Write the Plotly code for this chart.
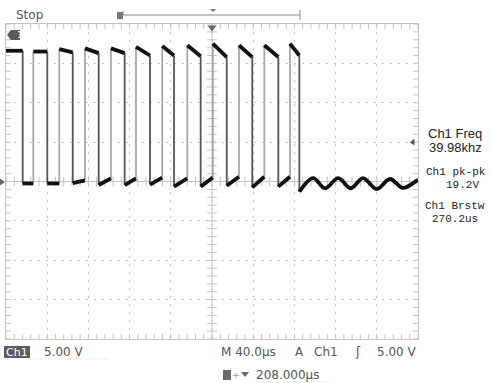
import numpy as np
import plotly.graph_objects as go

# ---------------- data (read from the screen) ----------------
# time in microseconds from the left edge of the graticule (40 us/div, 10 div)
# voltage in volts (5 V/div, ground at centre)
fall_us = [16.2, 40.1, 64.8, 90.0, 115.2, 139.8, 163.1, 189.0, 214.3, 239.1, 264.4, 284.8]
rise_us = [26.5, 51.7, 76.7, 101.9, 126.2, 151.7, 176.0, 200.8, 226.2, 250.8, 275.7]
high_start_v = [16.6, 16.5, 16.8, 16.9, 16.9, 17.1, 17.2, 17.3, 17.5, 17.3, 17.3, 17.5]
high_end_v = [16.6, 16.5, 16.4, 16.3, 16.3, 16.0, 16.0, 15.9, 15.8, 15.8, 15.8, 16.0]
low_start_v = [-0.25, -0.25, -0.2, -0.45, -0.45, -0.4, -0.65, -0.65, -0.55, -0.75, -0.65]
low_end_v = [-0.25, -0.25, 0.15, 0.4, 0.4, 0.5, 0.4, 0.5, 0.6, 0.6, 0.6]
ring_us = [284.8, 298.1, 309.7, 322.6, 334.7, 346.6, 359.9, 372.8, 385.4, 399.0, 400.0]
ring_v = [-1.3, 0.44, -0.86, 0.44, -0.86, 0.44, -0.95, 0.32, -0.82, 0.13, 0.2]

meas_labels = ["Ch1 Freq", "39.98khz", "Ch1 pk-pk", "19.2V", "Ch1 Brstw", "270.2us"]
status_text = "Stop"
ch_scale = "5.00 V"
time_scale = "M 40.0µs"
trig_text = ["A", "Ch1", "ʃ", "5.00 V"]
trig_pos = "208.000µs"
trig_level_v = 5.0
trig_time_us = 200.0

T_MIN, T_MAX, V_MIN, V_MAX = 0, 400, -20, 20
T_DIV, V_DIV = 40, 5

# ---------------- build the trace ----------------
pulse_start = [T_MIN] + rise_us
hx, hy = [], []
for i, f in enumerate(fall_us):
    hx += [pulse_start[i], f, None]
    hy += [high_start_v[i], high_end_v[i], None]
for i, r in enumerate(rise_us):
    hx += [fall_us[i], r, None]
    hy += [low_start_v[i], low_end_v[i], None]

fx, fy = [], []
for i, f in enumerate(fall_us):
    end_low = low_start_v[i] if i < len(low_start_v) else ring_v[0]
    fx += [f, f, None]
    fy += [high_end_v[i], end_low, None]
rx, ry = [], []
for i, r in enumerate(rise_us):
    rx += [r, r, None]
    ry += [low_end_v[i], high_start_v[i + 1], None]

fig = go.Figure()
GRID = "#c4c4c4"

# graticule ticks (clipped half-markers on the border, full on crosshair)
minor_t = np.arange(T_MIN, T_MAX + 0.01, T_DIV / 5)
minor_v = np.arange(V_MIN, V_MAX + 0.01, V_DIV / 5)
tick_style = dict(color=GRID, width=1)
for yv in (V_MIN, V_MAX, 0):
    fig.add_trace(go.Scatter(x=minor_t, y=[yv] * len(minor_t), mode="markers",
                             marker=dict(symbol="line-ns", size=7, line=tick_style),
                             hoverinfo="skip", showlegend=False, cliponaxis=True))
for xv in (T_MIN, T_MAX, (T_MIN + T_MAX) / 2):
    fig.add_trace(go.Scatter(x=[xv] * len(minor_v), y=minor_v, mode="markers",
                             marker=dict(symbol="line-ew", size=7, line=tick_style),
                             hoverinfo="skip", showlegend=False, cliponaxis=True))

# edges
fig.add_trace(go.Scatter(x=rx, y=ry, mode="lines", line=dict(color="#a8a8a8", width=1.8),
                         hoverinfo="skip", showlegend=False))
fig.add_trace(go.Scatter(x=fx, y=fy, mode="lines", line=dict(color="#555555", width=1.8),
                         hoverinfo="skip", showlegend=False))
# flat parts
fig.add_trace(go.Scatter(x=hx, y=hy, mode="lines", line=dict(color="#111111", width=3.8),
                         hoverinfo="skip", showlegend=False))
fig.add_trace(go.Scatter(x=ring_us, y=ring_v, mode="lines",
                         line=dict(color="#111111", width=3.8, shape="spline", smoothing=1.0),
                         hoverinfo="skip", showlegend=False))

# markers on graticule: trigger time (top) and trigger level (right)
fig.add_trace(go.Scatter(x=[trig_time_us], y=[V_MAX - 0.45], mode="markers",
                         marker=dict(symbol="triangle-down", size=8, color="#6a6a6a"),
                         hoverinfo="skip", showlegend=False, cliponaxis=False))
fig.add_trace(go.Scatter(x=[T_MAX - 5], y=[trig_level_v], mode="markers",
                         marker=dict(symbol="triangle-left", size=6, color="#555555"),
                         hoverinfo="skip", showlegend=False, cliponaxis=False))

# ---------------- layout helpers ----------------
L, R, T, B = 6, 418, 24, 339
W, H = R - L, B - T


def PX(x):
    return (x - L) / W


def PY(y):
    return (B - y) / H


shapes = [
    dict(type="line", xref="x", yref="y", x0=trig_time_us, x1=trig_time_us, y0=V_MIN, y1=V_MAX,
         line=dict(color=GRID, width=1), layer="below"),
    dict(type="line", xref="x", yref="y", x0=T_MIN, x1=T_MAX, y0=0, y1=0,
         line=dict(color=GRID, width=1), layer="below"),
    # header bracket
    dict(type="line", xref="paper", yref="paper", x0=PX(123), x1=PX(300), y0=PY(15), y1=PY(15),
         line=dict(color="#8a8a8a", width=1)),
    dict(type="line", xref="paper", yref="paper", x0=PX(123), x1=PX(123), y0=PY(11), y1=PY(15),
         line=dict(color="#8a8a8a", width=1)),
    dict(type="line", xref="paper", yref="paper", x0=PX(300), x1=PX(300), y0=PY(10), y1=PY(20),
         line=dict(color="#8a8a8a", width=1)),
    dict(type="rect", xref="paper", yref="paper", x0=PX(117), x1=PX(123), y0=PY(19), y1=PY(12),
         fillcolor="#777777", line=dict(width=0)),
    dict(type="path", xref="paper", yref="paper",
         path=f"M {PX(210)},{PY(9)} L {PX(216)},{PY(9)} L {PX(213)},{PY(12)} Z",
         fillcolor="#777777", line=dict(width=0)),
    # channel 1 marker (top-left)
    dict(type="path", xref="paper", yref="paper",
         path=f"M {PX(7)},{PY(35)} L {PX(11)},{PY(30)} L {PX(20)},{PY(30)} L {PX(20)},{PY(40)} L {PX(11)},{PY(40)} Z",
         fillcolor="#5a5a5a", line=dict(width=0)),
    # ground marker (left)
    dict(type="path", xref="paper", yref="paper",
         path=f"M {PX(0)},{PY(178.5)} L {PX(5)},{PY(182)} L {PX(0)},{PY(185.5)} Z",
         fillcolor="#666666", line=dict(width=0)),
    # bottom "Ch1" box
    dict(type="rect", xref="paper", yref="paper", x0=PX(4), x1=PX(30), y0=PY(358), y1=PY(346),
         fillcolor="#5c5c5c", line=dict(width=0)),
    dict(type="line", xref="paper", yref="paper", x0=PX(30), x1=PX(110), y0=PY(359), y1=PY(359),
         line=dict(color="#eeeeee", width=1)),
    dict(type="line", xref="paper", yref="paper", x0=PX(255), x1=PX(330), y0=PY(382), y1=PY(382),
         line=dict(color="#eeeeee", width=1)),
    # trigger-position icon
    dict(type="rect", xref="paper", yref="paper", x0=PX(223), x1=PX(231), y0=PY(380), y1=PY(370),
         fillcolor="#6a6a6a", line=dict(width=0)),
    dict(type="path", xref="paper", yref="paper",
         path=f"M {PX(241)},{PY(372)} L {PX(249)},{PY(372)} L {PX(245)},{PY(377)} Z",
         fillcolor="#666666", line=dict(width=0)),
]

SANS = "DejaVu Sans"
GREY = "#555555"


def ann(text, x, y, size=12, color=GREY, family=SANS, anchor="left"):
    return dict(text=text, x=PX(x), y=PY(y), xref="paper", yref="paper", showarrow=False,
                xanchor=anchor, yanchor="middle", font=dict(size=size, color=color, family=family),
                borderpad=0)


annotations = [
    ann(status_text, 15, 15),
    ann("1", 15.5, 35, size=9, color="white"),
    ann("Ch1", 17, 352, size=11, color="white", anchor="center"),
    ann(ch_scale, 43, 352),
    ann(time_scale, 220, 352),
    ann(trig_text[0], 294, 352),
    ann(trig_text[1], 313, 352),
    ann(trig_text[2], 354, 352),
    ann(trig_text[3], 376, 352),
    ann("+", 231, 375, size=9, color="#999999"),
    ann(trig_pos, 255, 375),
    ann(meas_labels[0], 455, 133, size=13, color="#222222", family="Liberation Sans", anchor="center"),
    ann(meas_labels[1], 455, 147, size=13, color="#222222", family="Liberation Sans", anchor="center"),
    ann(meas_labels[2], 456, 172, size=11, color="#222222", family="Liberation Mono", anchor="center"),
    ann(meas_labels[3], 462, 185, size=11, color="#222222", family="Liberation Mono", anchor="center"),
    ann(meas_labels[4], 455, 206, size=11, color="#222222", family="Liberation Mono", anchor="center"),
    ann(meas_labels[5], 455, 219, size=11, color="#222222", family="Liberation Mono", anchor="center"),
]

axis_common = dict(showgrid=True, gridcolor=GRID, griddash="2px,6px", gridwidth=1,
                   zeroline=False, showticklabels=False, ticks="",
                   showline=True, mirror=True, linecolor=GRID, linewidth=1, fixedrange=True)

fig.update_layout(
    width=491, height=383,
    margin=dict(l=L, r=491 - R, t=T, b=383 - B),
    paper_bgcolor="white", plot_bgcolor="white",
    xaxis=dict(range=[T_MIN, T_MAX], dtick=T_DIV, tick0=T_MIN, **axis_common),
    yaxis=dict(range=[V_MIN, V_MAX], dtick=V_DIV, tick0=V_MIN, **axis_common),
    shapes=shapes, annotations=annotations, showlegend=False,
)

fig.write_html("out.html", config=dict(displayModeBar=False),
               post_script="document.body.style.margin='0';document.body.style.overflow='hidden';")
